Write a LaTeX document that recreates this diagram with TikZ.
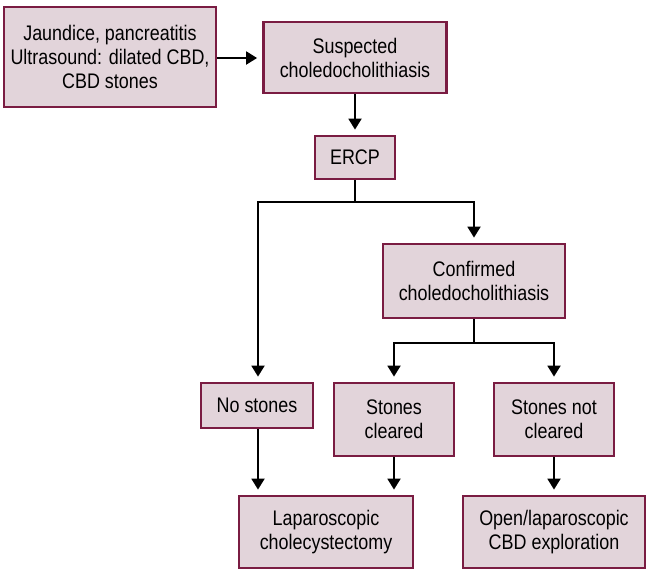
\documentclass[tikz,border=0pt]{standalone}
\usepackage{fontspec}
\setmainfont{Liberation Sans}[FakeStretch=0.85]
\usepackage{tikz}
\usetikzlibrary{arrows.meta,positioning}

\definecolor{boxline}{RGB}{122,28,66}
\definecolor{boxfill}{RGB}{226,212,218}

\begin{document}
\begin{tikzpicture}[
    stagebox/.style={draw=boxline, fill=boxfill, line width=0.08cm, align=center,
                 inner sep=0pt, font=\fontsize{18}{20.5}\selectfont},
    arrow/.style={-{Triangle[length=0.33cm,width=0.38cm]}, line width=0.085cm,
                 shorten >=0.15cm},
    link/.style={line width=0.085cm},
  ]
  \useasboundingbox (0,0) rectangle (19.5,-17.16);

  \node[stagebox, minimum width=6.36cm, minimum height=3.0cm]  (jaund)    at (3.3,-1.71)
      {Jaundice, pancreatitis\\Ultrasound: dilated CBD,\\CBD stones};
  \node[stagebox, minimum width=5.49cm, minimum height=2.13cm] (susp)     at (10.65,-1.725)
      {Suspected\\choledocholithiasis};
  \node[stagebox, minimum width=2.4cm,  minimum height=1.29cm] (ercp)     at (10.65,-4.725) {ERCP};
  \node[stagebox, minimum width=5.46cm, minimum height=2.22cm] (conf)     at (14.22,-8.43)
      {Confirmed\\choledocholithiasis};
  \node[stagebox, minimum width=3.36cm, minimum height=1.35cm] (nost)     at (7.71,-12.165) {No stones};
  \node[stagebox, minimum width=3.6cm,  minimum height=2.19cm] (clear)    at (11.82,-12.585)
      {Stones\\cleared};
  \node[stagebox, minimum width=3.6cm,  minimum height=2.19cm] (notclear) at (16.62,-12.585)
      {Stones not\\cleared};
  \node[stagebox, minimum width=5.22cm, minimum height=2.16cm] (lapchole) at (9.78,-15.96)
      {Laparoscopic\\cholecystectomy};
  \node[stagebox, minimum width=5.46cm, minimum height=2.16cm] (cbdexp)   at (16.62,-15.96)
      {Open/laparoscopic\\CBD exploration};

  \coordinate (split1) at (10.65,-6.06);
  \coordinate (split2) at (14.22,-10.29);

  \draw[arrow] (jaund.east |- 0,-1.74) -- (susp.west |- 0,-1.74);
  \draw[arrow] (susp) -- (ercp);

  \draw[link]  (ercp) -- (split1);
  \draw[arrow] (split1) -| (nost.north -| 7.74,0);
  \draw[arrow] (split1) -| (conf);

  \draw[link]  (conf) -- (split2);
  \draw[arrow] (split2) -| (clear);
  \draw[arrow] (split2) -| (notclear);

  \draw[arrow] (nost.south -| 7.74,0) -- (lapchole.north -| 7.74,0);
  \draw[arrow] (clear) -- (lapchole.north -| clear);
  \draw[arrow] (notclear) -- (cbdexp);
\end{tikzpicture}
\end{document}
